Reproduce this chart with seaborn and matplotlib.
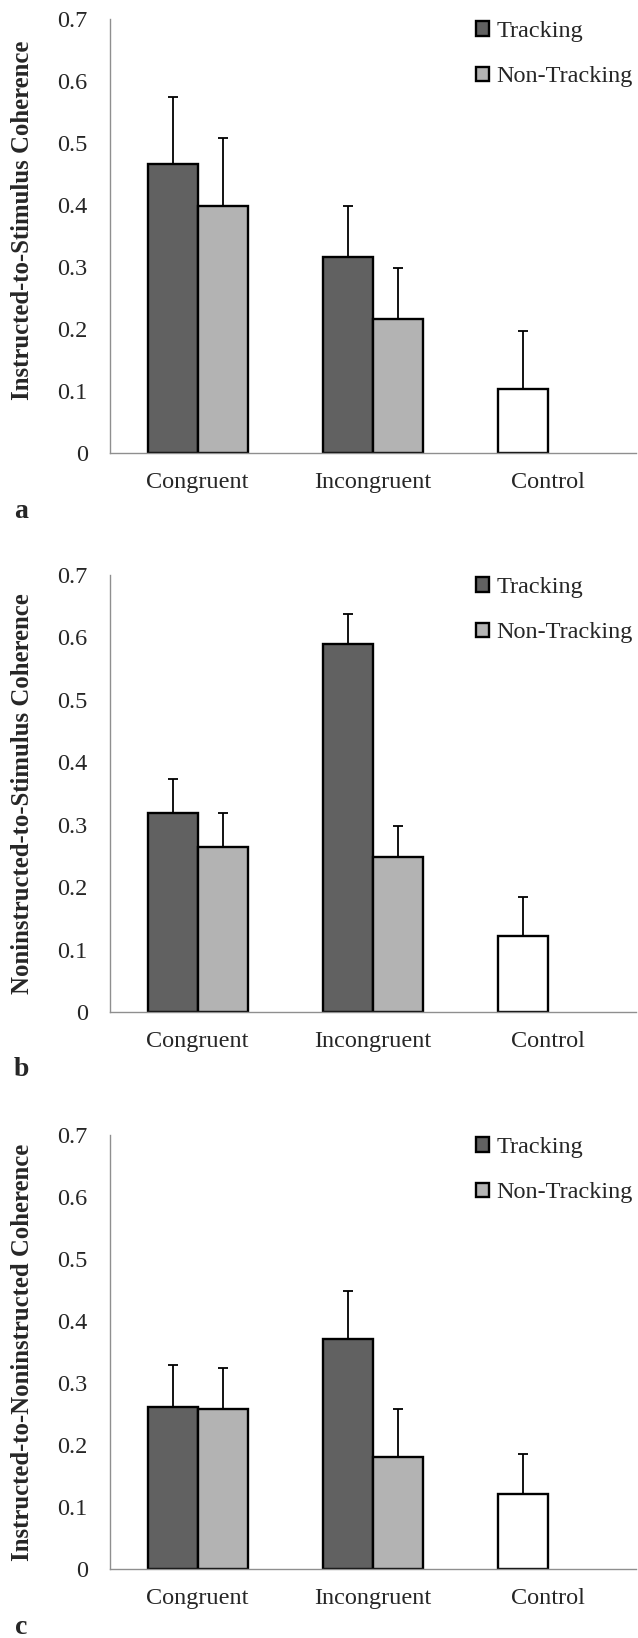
import numpy as np
import pandas as pd
import matplotlib
matplotlib.use("Agg")
import matplotlib.pyplot as plt
import seaborn as sns

# --- Daten ---
categories = ["Congruent", "Incongruent", "Control"]
groups = ["Tracking", "Non-Tracking"]

# a: Instructed-to-Stimulus
tracking_a = [0.466, 0.316, 0.104]
tracking_err_a = [0.108, 0.082, 0.093]
nontracking_a = [0.399, 0.216]          # kein Non-Tracking-Balken bei Control
nontracking_err_a = [0.109, 0.083]

# b: Noninstructed-to-Stimulus
tracking_b = [0.319, 0.590, 0.121]
tracking_err_b = [0.054, 0.048, 0.064]
nontracking_b = [0.264, 0.249]
nontracking_err_b = [0.055, 0.049]

# c: Instructed-to-Noninstructed
tracking_c = [0.262, 0.371, 0.121]
tracking_err_c = [0.067, 0.077, 0.064]
nontracking_c = [0.258, 0.180]
nontracking_err_c = [0.066, 0.078]

ylabels = [
    "Instructed-to-Stimulus Coherence",
    "Noninstructed-to-Stimulus Coherence",
    "Instructed-to-Noninstructed Coherence",
]
panel_letters = ["a", "b", "c"]
yticks = [0, 0.1, 0.2, 0.3, 0.4, 0.5, 0.6, 0.7]
ytick_labels = ["0", "0.1", "0.2", "0.3", "0.4", "0.5", "0.6", "0.7"]

DARK = "#616161"
LIGHT = "#b3b3b3"
AXIS_GRAY = "#8f8f8f"
FS = 17.5


def make_frame(tr, tr_err, nt, nt_err):
    rows = []
    for cat, v, e in zip(categories, tr, tr_err):
        rows.append({"Category": cat, "Group": "Tracking", "Value": v, "Err": e})
    for cat, v, e in zip(categories, nt, nt_err):
        rows.append({"Category": cat, "Group": "Non-Tracking", "Value": v, "Err": e})
    return pd.DataFrame(rows)


def draw_panel(ax, df, ylabel, label_y):
    sns.barplot(data=df, x="Category", y="Value", hue="Group",
                order=categories, hue_order=groups,
                palette={"Tracking": DARK, "Non-Tracking": LIGHT},
                width=0.571, errorbar=None, edgecolor="black", linewidth=1.7,
                legend=False, ax=ax, zorder=3)

    # Fehlerbalken (nur nach oben) an die Balken von seaborn haengen
    for container, grp in zip(ax.containers, groups):
        sub = df[df["Group"] == grp]
        for bar in container:
            xc = bar.get_x() + bar.get_width() / 2
            cat = categories[int(round(xc))]
            row = sub[sub["Category"] == cat].iloc[0]
            if cat == "Control":
                bar.set_facecolor("white")
            ax.errorbar(xc, row["Value"], yerr=[[0], [row["Err"]]], fmt="none",
                        ecolor="black", elinewidth=1.3, capsize=3.6,
                        capthick=1.3, zorder=2)

    ax.set_xlim(-0.5, 2.5)
    ax.set_ylim(0, 0.7)
    ax.set_yticks(yticks)
    ax.set_yticklabels(ytick_labels)
    ax.set_xticks([0, 1, 2])
    ax.set_xticklabels(categories)
    ax.set_xticks([-0.5, 0.5, 1.5, 2.5], minor=True)
    ax.tick_params(axis="x", which="major", length=0, pad=14, labelsize=FS)
    ax.tick_params(axis="x", which="minor", length=5, width=1, color=AXIS_GRAY,
                   direction="out")
    ax.tick_params(axis="y", length=5, width=1, color=AXIS_GRAY, direction="out",
                   pad=11, labelsize=FS)
    for side in ["top", "right"]:
        ax.spines[side].set_visible(False)
    for side in ["left", "bottom"]:
        ax.spines[side].set_color(AXIS_GRAY)
        ax.spines[side].set_linewidth(1.0)
        ax.spines[side].set_zorder(4)
    ax.set_xlabel("")
    ax.set_ylabel(ylabel, fontsize=FS + 0.3, fontweight="bold")
    ax.yaxis.set_label_coords(-0.145, label_y)

    handles = [ax.containers[0][0], ax.containers[1][0]]
    ax.legend(handles, groups, loc="upper left", bbox_to_anchor=(0.695, 0.995),
              frameon=False, fontsize=FS, borderpad=0, borderaxespad=0,
              handlelength=0.55, handleheight=0.55, handletextpad=0.3,
              labelspacing=1.0)


def main():
    sns.set_theme(style="white")
    plt.rcParams["font.family"] = ["Liberation Serif", "DejaVu Serif"]
    plt.rcParams["axes.unicode_minus"] = False

    fig = plt.figure(figsize=(6.38, 16.38), dpi=100)
    H = 1638.0
    W = 638.0
    # (oben, unten) in Pixeln fuer jede Achse
    panel_px = [(19, 453), (575, 1012), (1135, 1569)]
    letter_px = [512, 1070, 1628]
    label_ys = [0.535, 0.5, 0.5]

    frames = [
        make_frame(tracking_a, tracking_err_a, nontracking_a, nontracking_err_a),
        make_frame(tracking_b, tracking_err_b, nontracking_b, nontracking_err_b),
        make_frame(tracking_c, tracking_err_c, nontracking_c, nontracking_err_c),
    ]

    for (top, bottom), df, ylab, letter, ly, lab_y in zip(
            panel_px, frames, ylabels, panel_letters, letter_px, label_ys):
        ax = fig.add_axes([110 / W, 1 - bottom / H, 526 / W, (bottom - top) / H])
        draw_panel(ax, df, ylab, lab_y)
        fig.text(21 / W, 1 - ly / H, letter, fontsize=20, fontweight="bold",
                 ha="center", va="center")

    fig.savefig("out.png", dpi=100, facecolor="white")


if __name__ == "__main__":
    main()
